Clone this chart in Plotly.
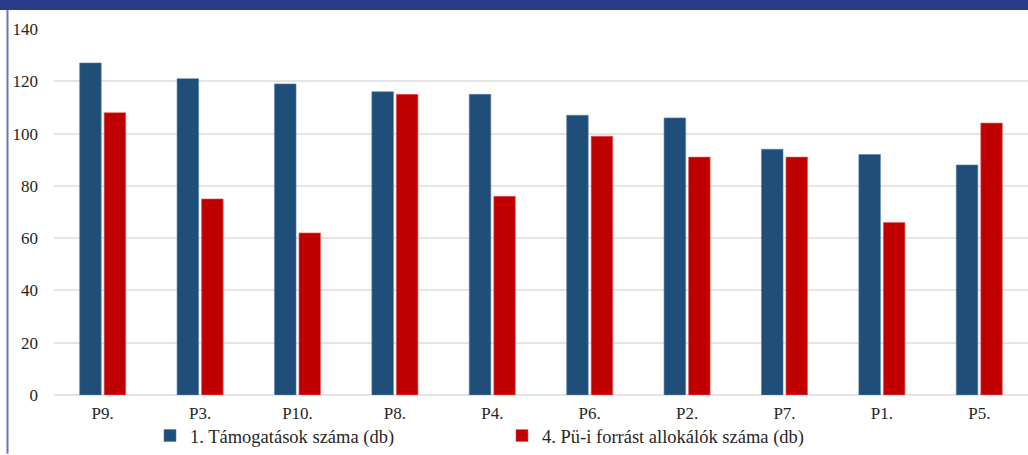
import plotly.graph_objects as go

# Categories and the two counted series
categories = ["P9.", "P3.", "P10.", "P8.", "P4.", "P6.", "P2.", "P7.", "P1.", "P5."]
tamogatasok = [127, 121, 119, 116, 115, 107, 106, 94, 92, 88]
allokalok = [108, 75, 62, 115, 76, 99, 91, 91, 66, 104]
series_names = ["1. Támogatások száma (db)", "4. Pü-i forrást allokálók száma (db)"]
y_ticks = [0, 20, 40, 60, 80, 100, 120, 140]

W, H = 1028, 455
M_L, M_R, M_T, M_B = 54, 0, 29, 59
plot_w = W - M_L - M_R
plot_h = H - M_T - M_B


def px_x(px):
    return (px - M_L) / plot_w


def px_y(py):
    return (H - M_B - py) / plot_h


FONT = "Liberation Serif, serif"
TEXT = "#262626"

fig = go.Figure()
fig.add_trace(go.Bar(
    x=categories, y=tamogatasok, name=series_names[0],
    marker=dict(color="#1F4E79", line=dict(color="#5B7FA8", width=0.6)),
))
fig.add_trace(go.Bar(
    x=categories, y=allokalok, name=series_names[1],
    marker=dict(color="#C00000", line=dict(color="#E06060", width=0.6)),
))

fig.update_layout(
    width=W, height=H,
    margin=dict(l=M_L, r=M_R, t=M_T, b=M_B, pad=0),
    paper_bgcolor="white", plot_bgcolor="white",
    barmode="group", bargap=0.497, bargroupgap=0.12,
    font=dict(family=FONT, size=17, color=TEXT),
    showlegend=True,
    legend=dict(
        orientation="h", x=px_x(150), xanchor="left",
        y=px_y(437), yanchor="middle",
        font=dict(family=FONT, size=18.5, color=TEXT),
        entrywidth=307, entrywidthmode="pixels",
        itemwidth=30, bgcolor="rgba(0,0,0,0)", borderwidth=0,
    ),
    xaxis=dict(
        showgrid=False, showline=False, zeroline=False,
        ticks="", ticklabelstandoff=6,
        tickfont=dict(family=FONT, size=17, color=TEXT),
    ),
    yaxis=dict(
        range=[0, 140], tickvals=y_ticks,
        showgrid=True, gridcolor="#E4E4E4", gridwidth=1.5,
        zeroline=True, zerolinecolor="#E4E4E4", zerolinewidth=1.5,
        showline=False, ticks="", ticklabelstandoff=15,
        tickfont=dict(family=FONT, size=17, color=TEXT),
    ),
    shapes=[
        # dark band across the top
        dict(type="rect", xref="paper", yref="paper",
             x0=px_x(0), x1=px_x(W), y0=px_y(10), y1=px_y(0),
             fillcolor="#2C3B87", line=dict(width=0), layer="above"),
        # thin frame line on the left
        dict(type="line", xref="paper", yref="paper",
             x0=px_x(7.5), x1=px_x(7.5), y0=px_y(H), y1=px_y(10),
             line=dict(color="#6A74BE", width=2)),
    ],
)

fig.write_html("out.html")
